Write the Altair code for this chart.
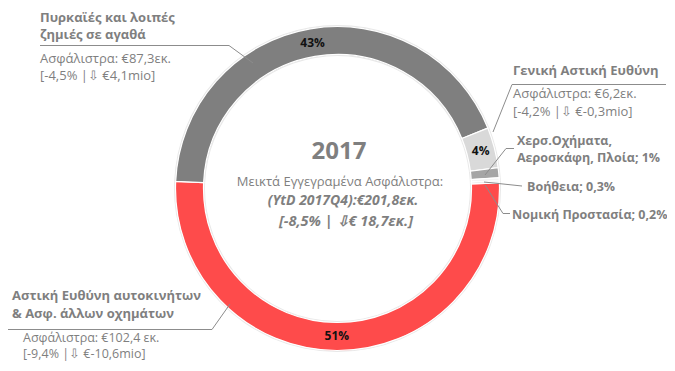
import math
import altair as alt
import pandas as pd

# ---- data -------------------------------------------------------------
categories = [
    "Αστική Ευθύνη αυτοκινήτων & Ασφ. άλλων οχημάτων",
    "Πυρκαϊές και λοιπές ζημιές σε αγαθά",
    "Γενική Αστική Ευθύνη",
    "Χερσ.Οχήματα, Αεροσκάφη, Πλοία",
    "Βοήθεια",
    "Νομική Προστασία",
]
shares = [51, 43, 4, 1, 0.3, 0.2]
pct_labels = ["51%", "43%", "4%", "", "", ""]
colors = ["#fe4b4b", "#7f7f7f", "#d9d9d9", "#a5a5a5", "#f4f4f4", "#e2e2e2"]

center_title = "2017"
center_lines = [
    "Μεικτά Εγγεγραμένα Ασφάλιστρα:",
    "(YtD 2017Q4):€201,8εκ.",
    "[-8,5% | ⇩€ 18,7εκ.]",
]
fire_title = ["Πυρκαϊές και λοιπές", "ζημιές σε αγαθά"]
fire_info = ["Ασφάλιστρα: €87,3εκ.", "[-4,5% |⇩ €4,1mio]"]
gen_title = ["Γενική Αστική Ευθύνη"]
gen_info = ["Ασφάλιστρα: €6,2εκ.", "[-4,2% |⇩ €-0,3mio]"]
vehicle_title = ["Χερσ.Οχήματα,", "Αεροσκάφη, Πλοία; 1%"]
assist_title = ["Βοήθεια; 0,3%"]
legal_title = ["Νομική Προστασία; 0,2%"]
motor_title = ["Αστική Ευθύνη αυτοκινήτων", "& Ασφ. άλλων οχημάτων"]
motor_info = ["Ασφάλιστρα: €102,4 εκ.", "[-9,4% |⇩ €-10,6mio]"]

df = pd.DataFrame({
    "category": categories,
    "share": shares,
    "label": pct_labels,
    "order": list(range(len(categories))),
})

# ---- layout -----------------------------------------------------------
W, H = 659, 349
PAD_TOP = 6
OX, OY = 8, 8 + PAD_TOP          # page offset of the plot area
FONT = "Open Sans"
GRAY = "#7f7f7f"
start = math.radians(88)
theta_scale = alt.Scale(range=[start, start + 2 * math.pi])

base = alt.Chart(df).encode(
    theta=alt.Theta("share:Q", stack=True, scale=theta_scale),
    order=alt.Order("order:Q"),
)

shadow = alt.Chart(df).mark_arc(radius=163.5, radius2=132.5, color="#e8e8e8").encode(
    theta=alt.Theta("share:Q", stack=True, scale=theta_scale),
    order=alt.Order("order:Q"),
)

ring = base.mark_arc(radius=162, radius2=134, stroke="white", strokeWidth=1.2).encode(
    color=alt.Color("category:N", scale=alt.Scale(domain=categories, range=colors), legend=None),
)

pct = base.mark_text(radius=148, font=FONT, fontSize=12, fontWeight="bold", color="#111111").encode(
    text="label:N"
)

layers = [shadow, ring, pct]


def txt(s, x, y, size=13, bold=False, italic=False, align="left", color=GRAY):
    return alt.Chart(df.head(1)).mark_text(
        font=FONT, fontSize=size, fontWeight="bold" if bold else "normal",
        fontStyle="italic" if italic else "normal", align=align,
        baseline="middle", color=color,
    ).encode(x=alt.value(x - OX), y=alt.value(y - OY), text=alt.value(s))


def line(pts):
    out = []
    for (x1, y1), (x2, y2) in zip(pts[:-1], pts[1:]):
        out.append(alt.Chart(df.head(1)).mark_rule(color="#8c8c8c", strokeWidth=1).encode(
            x=alt.value(x1 - OX), y=alt.value(y1 - OY),
            x2=alt.value(x2 - OX), y2=alt.value(y2 - OY)))
    return out

# centre text
layers.append(txt(center_title, 339, 152, size=24, bold=True, align="center"))
layers.append(txt(center_lines[0], 340, 182, size=13, align="center"))
layers.append(txt(center_lines[1], 343, 201, size=14, bold=True, italic=True, align="center"))
layers.append(txt(center_lines[2], 346, 222, size=14.5, bold=True, italic=True, align="center"))

# fire
layers.append(txt(fire_title[0], 40, 18, size=13, bold=True))
layers.append(txt(fire_title[1], 40, 35, size=13, bold=True))
layers.append(txt(fire_info[0], 40, 59, size=13))
layers.append(txt(fire_info[1], 40, 76, size=13))
layers += line([(40, 45.5), (229, 45.5), (253, 63)])

# general liability
layers.append(txt(gen_title[0], 513, 71, size=13, bold=True))
layers.append(txt(gen_info[0], 513, 94, size=13))
layers.append(txt(gen_info[1], 513, 112, size=13))
layers += line([(666, 84.5), (512, 84.5), (493, 132)])

# vehicles
layers.append(txt(vehicle_title[0], 517, 141, size=12.5, bold=True))
layers.append(txt(vehicle_title[1], 517, 158, size=12.5, bold=True))
layers += line([(514, 148.5), (506, 148.5), (485, 175)])

# assistance
layers.append(txt(assist_title[0], 527, 187, size=12.5, bold=True))
layers += line([(484, 182), (522, 186)])

# legal
layers.append(txt(legal_title[0], 512, 215, size=12.5, bold=True))
layers += line([(485, 185), (503, 213.5), (510, 213.5)])

# motor
layers.append(txt(motor_title[0], 12, 296, size=13, bold=True))
layers.append(txt(motor_title[1], 12, 314, size=13, bold=True))
layers.append(txt(motor_info[0], 23, 338, size=12.5))
layers.append(txt(motor_info[1], 23, 354, size=12.5))
layers += line([(7, 329.5), (212, 329.5), (230, 304)])

chart = alt.layer(*layers).properties(
    width=W, height=H,
    padding={"left": 0, "right": 0, "top": PAD_TOP, "bottom": 0},
    autosize=alt.AutoSizeParams(type="none"),
).configure_view(stroke=None)

chart.save("out.html", embed_options={"renderer": "svg", "actions": False})
